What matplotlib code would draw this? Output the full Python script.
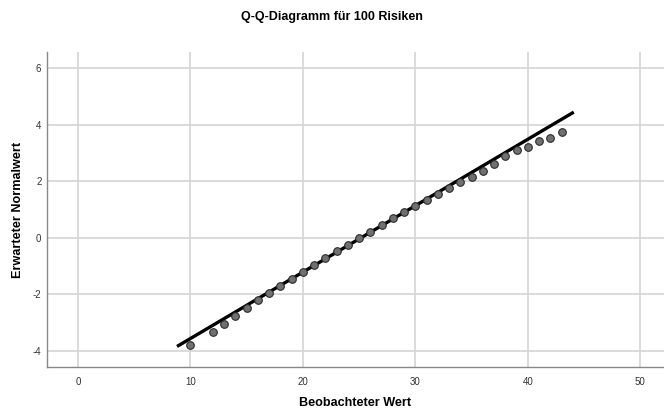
import matplotlib
matplotlib.use("Agg")
import matplotlib.pyplot as plt

# beobachtete Werte und erwartete Normalwerte
beobachtet = [10, 12, 13, 14, 15, 16, 17, 18, 19, 20, 21, 22, 23, 24, 25, 26,
              27, 28, 29, 30, 31, 32, 33, 34, 35, 36, 37, 38, 39, 40, 41, 42, 43]
erwartet = [-3.78, -3.32, -3.04, -2.76, -2.48, -2.21, -1.95, -1.70, -1.45, -1.20,
            -0.97, -0.72, -0.48, -0.25, -0.01, 0.22, 0.47, 0.70, 0.91, 1.14,
            1.35, 1.55, 1.76, 1.97, 2.17, 2.38, 2.63, 2.91, 3.10, 3.23, 3.44,
            3.55, 3.73]
linie_x = [8.93, 43.96]
linie_y = [-3.81, 4.42]

x_ticks = [0, 10, 20, 30, 40, 50]
y_ticks = [-4, -2, 0, 2, 4, 6]

plt.rcParams['font.family'] = ['Liberation Sans', 'DejaVu Sans']
plt.rcParams['axes.unicode_minus'] = False

fig = plt.figure(figsize=(6.64, 4.12), dpi=100)
ax = fig.add_axes([0.0708, 0.109, 0.929, 0.765])

ax.grid(True, color='#d4d4d4', linewidth=1.2)
ax.set_axisbelow(True)

ax.plot(linie_x, linie_y, color='black', linewidth=2.4, zorder=3)
ax.scatter(beobachtet, erwartet, s=30, color='#707070', edgecolor='#2a2a2a',
           linewidth=0.8, zorder=4)

ax.set_xlim(-2.76, 52.1)
ax.set_ylim(-4.57, 6.58)
ax.set_xticks(x_ticks)
ax.set_yticks(y_ticks)
ax.tick_params(length=0, labelsize=7, colors='#333333')
ax.tick_params(axis='x', pad=7)
ax.tick_params(axis='y', pad=4)

for s in ['top', 'right']:
    ax.spines[s].set_visible(False)
for s in ['left', 'bottom']:
    ax.spines[s].set_color('#888888')
    ax.spines[s].set_linewidth(1.0)

ax.set_xlabel('Beobachteter Wert', fontsize=9.1, fontweight='bold', labelpad=7.5)
ax.set_ylabel('Erwarteter Normalwert', fontsize=9.1, fontweight='bold', labelpad=6)
fig.text(0.5, 1 - 17 / 412, 'Q-Q-Diagramm für 100 Risiken', fontsize=9,
         fontweight='bold', ha='center', va='center')

fig.savefig('out.png', dpi=100)
